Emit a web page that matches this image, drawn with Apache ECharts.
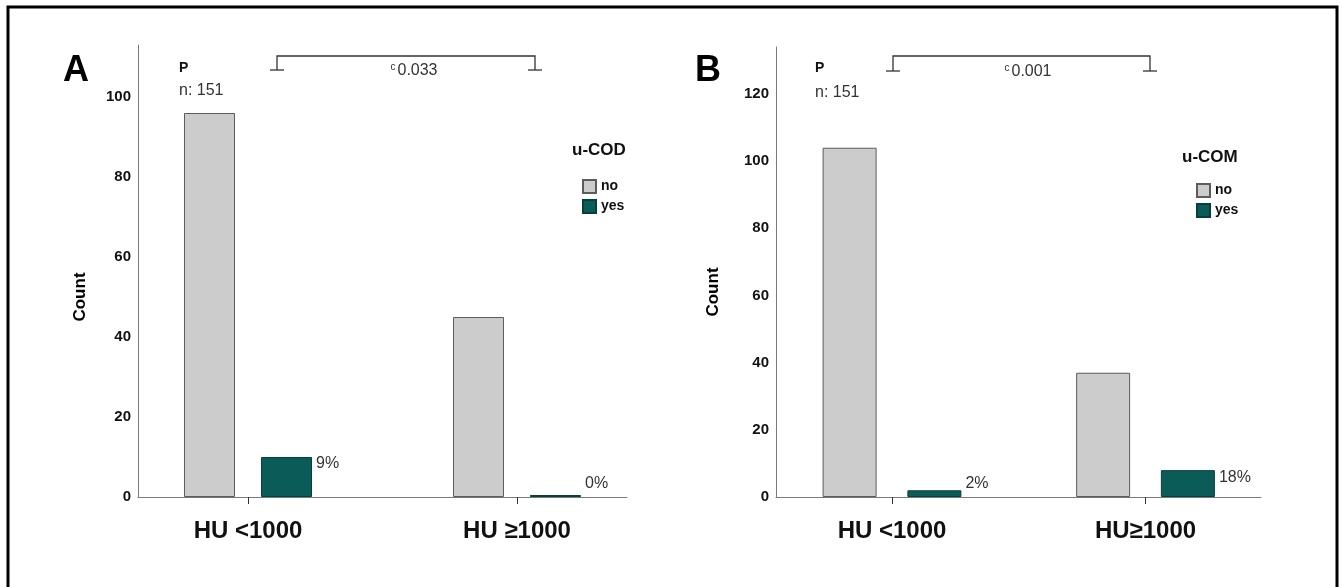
<!DOCTYPE html>
<html>
<head>
<meta charset="utf-8">
<script src="https://cdn.jsdelivr.net/npm/echarts@6/dist/echarts.min.js"></script>
<style>
html,body{margin:0;padding:0;background:#fff;}
#chart{width:1342px;height:587px;}
</style>
</head>
<body>
<div id="chart"></div>
<script>
// ---- data ----
const categoriesA = ['HU <1000', 'HU \u22651000'];
const categoriesB = ['HU <1000', 'HU\u22651000'];
const seriesNames = ['no', 'yes'];
const noA = [96, 45];
const yesA = [10, 0];
const noB = [104, 37];
const yesB = [2, 8];
const pctA = ['9%', '0%'];
const pctB = ['2%', '18%'];
const legendTitleA = 'u-COD';
const legendTitleB = 'u-COM';
const pValueA = '0.033';
const pValueB = '0.001';
const nLabel = 'n: 151';
const yMaxA = 113;
const yMaxB = 134;
const yInterval = 20;

// ---- styles ----
const GRAY = '#cccccc', GRAY_B = '#5c5c5c';
const TEAL = '#0b5c59', TEAL_B = '#073f3d';
const AXIS = '#7a7a7a';
const SANS = "'Liberation Sans', Arial, sans-serif";
const NARROW = "'Liberation Sans Narrow', 'Liberation Sans', Arial, sans-serif";

const chart = echarts.init(document.getElementById('chart'), null, {renderer: 'canvas'});

function tickFmt(v) { return (v % yInterval === 0) ? String(v) : ''; }

function barsY(max, gridIndex) {
  return { type: 'value', gridIndex: gridIndex, min: 0, max: max, interval: yInterval,
    axisLine: {show: false}, axisTick: {show: false}, axisLabel: {show: false}, splitLine: {show: false} };
}
function axesY(max, gridIndex) {
  return { type: 'value', gridIndex: gridIndex, min: 0, max: max, interval: yInterval,
    axisLine: {show: true, lineStyle: {color: AXIS, width: 1}},
    axisTick: {show: false},
    axisLabel: {show: true, formatter: tickFmt, color: '#111', fontWeight: 'bold', fontSize: 15, fontFamily: NARROW, margin: 7},
    splitLine: {show: false} };
}
function barsX(cats, gridIndex) {
  return { type: 'category', gridIndex: gridIndex, data: cats,
    axisLine: {show: false},
    axisTick: {show: true, alignWithLabel: true, length: 7, lineStyle: {color: '#333'}},
    axisLabel: {show: true, color: '#111', fontWeight: 'bold', fontSize: 24, fontFamily: SANS, margin: 22} };
}
function axesX(cats, gridIndex) {
  return { type: 'category', gridIndex: gridIndex, data: cats,
    axisLine: {show: true, lineStyle: {color: AXIS, width: 1}},
    axisTick: {show: false}, axisLabel: {show: false} };
}

function pctLayout(p) {
  const r = p.rect;
  return { x: r.x + r.width + 4, y: Math.min(r.y + 7, r.y + r.height - 13), align: 'left', verticalAlign: 'middle' };
}

function makeSeries(noData, yesData, pct, axisIdx, barWidth, barGap) {
  return [
    { name: seriesNames[0], type: 'bar', xAxisIndex: axisIdx, yAxisIndex: axisIdx, data: noData,
      barWidth: barWidth, barGap: barGap,
      itemStyle: {color: GRAY, borderColor: GRAY_B, borderWidth: 1} },
    { name: seriesNames[1], type: 'bar', xAxisIndex: axisIdx, yAxisIndex: axisIdx, data: yesData,
      barWidth: barWidth, barGap: barGap, barMinHeight: 2,
      itemStyle: {color: TEAL, borderColor: TEAL_B, borderWidth: 1},
      label: {show: true, formatter: function (p) { return pct[p.dataIndex]; },
        color: '#333', fontSize: 16, fontFamily: SANS},
      labelLayout: pctLayout }
  ];
}

function bracket(x1, x2, yTop, yFoot) {
  return [
    {type: 'polyline', shape: {points: [[x1, yFoot], [x1, yTop], [x2, yTop], [x2, yFoot]]}, style: {stroke: '#333', lineWidth: 1.3, fill: null}},
    {type: 'line', shape: {x1: x1 - 7, y1: yFoot, x2: x1 + 7, y2: yFoot}, style: {stroke: '#333', lineWidth: 1.3}},
    {type: 'line', shape: {x1: x2 - 7, y1: yFoot, x2: x2 + 7, y2: yFoot}, style: {stroke: '#333', lineWidth: 1.3}}
  ];
}
function txt(x, y, text, size, weight, color, extra) {
  return Object.assign({type: 'text', x: x, y: y,
    style: {text: text, fontSize: size, fontWeight: weight, fill: color, fontFamily: SANS, align: 'left', verticalAlign: 'middle'}}, extra || {});
}
function pText(cx, y, val) {
  return {type: 'text', x: cx, y: y,
    style: {text: '{s|c}' + val, align: 'center', verticalAlign: 'middle', fill: '#333', fontSize: 16, fontFamily: SANS,
      rich: {s: {fontSize: 10, fill: '#333', fontFamily: SANS, verticalAlign: 'top', padding: [0, 2, 8, 0]}}}};
}

const option = {
  backgroundColor: '#fff',
  animation: false,
  grid: [
    {left: 113.5, top: 45, width: 538, bottom: 90},
    {left: 138, top: 45, width: 489, bottom: 90},
    {left: 765.25, top: 47, width: 507, bottom: 90},
    {left: 776, top: 47, width: 485, bottom: 90}
  ],
  xAxis: [barsX(categoriesA, 0), axesX(categoriesA, 1), barsX(categoriesB, 2), axesX(categoriesB, 3)],
  yAxis: [barsY(yMaxA, 0), axesY(yMaxA, 1), barsY(yMaxB, 2), axesY(yMaxB, 3)],
  legend: [
    {data: seriesNames, orient: 'vertical', left: 577, top: 174, itemWidth: 13, itemHeight: 13, itemGap: 5,
      icon: 'rect', selectedMode: false, textStyle: {fontWeight: 'bold', fontSize: 14, color: '#111', fontFamily: SANS}},
    {data: seriesNames, orient: 'vertical', left: 1191, top: 178, itemWidth: 13, itemHeight: 13, itemGap: 5,
      icon: 'rect', selectedMode: false, textStyle: {fontWeight: 'bold', fontSize: 14, color: '#111', fontFamily: SANS}}
  ],
  series: [].concat(
    makeSeries(noA, yesA, pctA, 0, 51, '51%'),
    makeSeries(noB, yesB, pctB, 2, 54, '57%')
  ),
  graphic: [].concat(
    [{type: 'rect', shape: {x: 8, y: 7, width: 1329, height: 620}, style: {fill: null, stroke: '#000', lineWidth: 3}, silent: true}],
    [txt(63, 71, 'A', 36, 'bold', '#000'), txt(695, 71, 'B', 36, 'bold', '#000')],
    [txt(179, 68, 'P', 14, 'bold', '#111'), txt(179, 91, nLabel, 16, 'normal', '#333')],
    [txt(815, 68, 'P', 14, 'bold', '#111'), txt(815, 93, nLabel, 16, 'normal', '#333')],
    bracket(277, 535, 56, 70), bracket(893, 1150, 56, 71),
    [pText(414, 71, pValueA), pText(1028, 72, pValueB)],
    [txt(572, 150, legendTitleA, 17, 'bold', '#111'), txt(1182, 157, legendTitleB, 17, 'bold', '#111')],
    [{type: 'text', x: 80, y: 297, rotation: Math.PI / 2,
       style: {text: 'Count', fontSize: 17, fontWeight: 'bold', fill: '#000', fontFamily: SANS, align: 'center', verticalAlign: 'middle'}},
     {type: 'text', x: 713, y: 292, rotation: Math.PI / 2,
       style: {text: 'Count', fontSize: 17, fontWeight: 'bold', fill: '#000', fontFamily: SANS, align: 'center', verticalAlign: 'middle'}}]
  )
};
chart.setOption(option);
</script>
</body>
</html>
